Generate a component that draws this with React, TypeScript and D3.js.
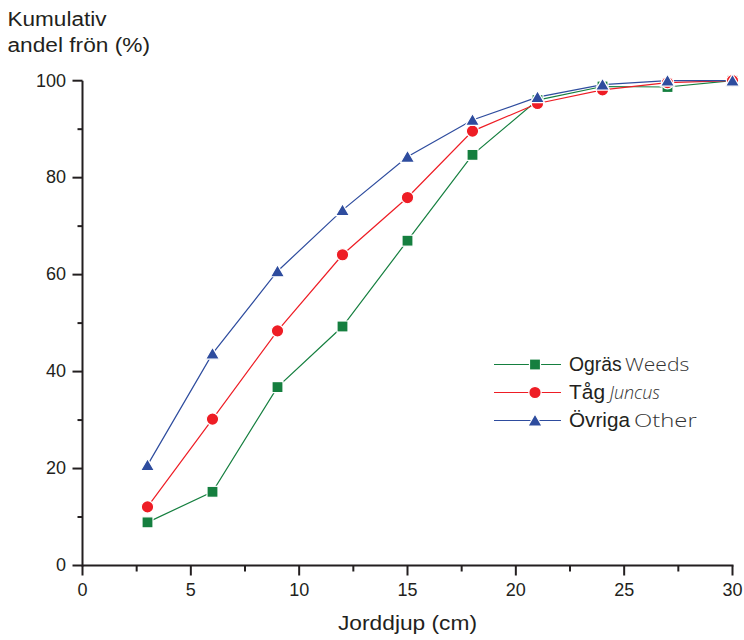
import React from "react";
import * as d3 from "d3";

const depths = [3, 6, 9, 12, 15, 18, 21, 24, 27, 30];
const weeds = [8.9, 15.2, 36.8, 49.3, 67.0, 84.7, 96.0, 98.8, 98.7, 100];
const juncus = [12.1, 30.2, 48.4, 64.1, 75.9, 89.6, 95.3, 98.1, 99.6, 100];
const other = [20.7, 43.7, 60.7, 73.3, 84.3, 91.9, 96.6, 99.2, 100, 100];
const xTicks = [0, 5, 10, 15, 20, 25, 30];
const xMinor = [2.5, 7.5, 12.5, 17.5, 22.5, 27.5];
const yTicks = [0, 20, 40, 60, 80, 100];
const yMinor = [10, 30, 50, 70, 90];

const seriesNames = ["Ogräs", "Tåg", "Övriga"];
const seriesSub = ["Weeds", "Juncus", "Other"];
const colors = ["#157f3f", "#ee1d25", "#2e4c9e"];

const W = 744;
const H = 640;

export default function App() {
  const x = d3.scaleLinear().domain([0, 30]).range([82.5, 732.5]);
  const y = d3.scaleLinear().domain([0, 100]).range([565.5, 80.7]);
  const line = d3
    .line<number>()
    .x((_, i) => x(depths[i]))
    .y((v) => y(v));
  const all = [weeds, juncus, other];
  const font = "'Liberation Sans', Arial, Helvetica, sans-serif";
  const subFont = "'Open Sans', Lato, sans-serif";

  const marker = (k: number, cx: number, cy: number, key: string) => {
    if (k === 0)
      return (
        <rect key={key} x={cx - 5.5} y={cy - 5.5} width={11} height={11} fill={colors[0]} stroke="#fff" strokeWidth={1.2} />
      );
    if (k === 1)
      return <circle key={key} cx={cx} cy={cy} r={6.2} fill={colors[1]} stroke="#fff" strokeWidth={1.2} />;
    const h = 11;
    const w = 14;
    const p = `M${cx},${cy - h / 2 - 1}L${cx + w / 2},${cy + h / 2}L${cx - w / 2},${cy + h / 2}Z`;
    return <path key={key} d={p} fill={colors[2]} stroke="#fff" strokeWidth={1.2} />;
  };

  const legendY = [364.5, 392.5, 420.5];
  const mainLen = [52.7, 36, 61];
  const subX = [625, 609.5, 634];
  const subLen = [64.3, 50.5, 62.7];

  return (
    <svg width={W} height={H} style={{ position: "absolute", left: 0, top: 0, background: "#fff" }}>
      <rect width={W} height={H} fill="#fff" />
      <text x={7.5} y={26} fontFamily={font} fontSize={19.5} fill="#231f20" textLength={99} lengthAdjust="spacingAndGlyphs">
        Kumulativ
      </text>
      <text x={7.5} y={52} fontFamily={font} fontSize={19.5} fill="#231f20" textLength={142.5} lengthAdjust="spacingAndGlyphs">
        andel frön (%)
      </text>

      {/* axes */}
      <g stroke="#231f20" strokeWidth={2} fill="none">
        <line x1={x(0)} x2={x(30) + 1} y1={y(0)} y2={y(0)} />
        <line x1={x(0)} x2={x(0)} y1={y(0) + 1} y2={y(100)} />
        {xTicks.map((t) => (
          <line key={"xt" + t} x1={x(t)} x2={x(t)} y1={y(0)} y2={y(0) + 10} />
        ))}
        {xMinor.map((t) => (
          <line key={"xm" + t} x1={x(t)} x2={x(t)} y1={y(0)} y2={y(0) + 6} />
        ))}
        {yTicks.map((t) => (
          <line key={"yt" + t} x1={x(0) - 10} x2={x(0)} y1={y(t)} y2={y(t)} />
        ))}
        {yMinor.map((t) => (
          <line key={"ym" + t} x1={x(0) - 5} x2={x(0)} y1={y(t)} y2={y(t)} />
        ))}
      </g>
      {xTicks.map((t) => (
        <text key={"xl" + t} x={x(t)} y={596} textAnchor="middle" fontFamily={font} fontSize={18} fill="#231f20">
          {t}
        </text>
      ))}
      {yTicks.map((t) => (
        <text key={"yl" + t} x={x(0) - 16.5} y={y(t) + 5.8} textAnchor="end" fontFamily={font} fontSize={18} fill="#231f20">
          {t}
        </text>
      ))}
      <text x={338} y={630} fontFamily={font} fontSize={19.5} fill="#231f20" textLength={139} lengthAdjust="spacingAndGlyphs">
        Jorddjup (cm)
      </text>

      {/* series */}
      {all.map((s, k) => (
        <path key={"l" + k} d={line(s) || ""} fill="none" stroke={colors[k]} strokeWidth={1.2} />
      ))}
      {all.map((s, k) => (
        <g key={"m" + k}>{s.map((v, i) => marker(k, x(depths[i]), y(v), k + "-" + i))}</g>
      ))}

      {/* legend */}
      {seriesNames.map((n, k) => (
        <g key={"lg" + k}>
          <line x1={494} x2={561} y1={legendY[k]} y2={legendY[k]} stroke={colors[k]} strokeWidth={1.2} />
          {marker(k, 535, legendY[k], "lm" + k)}
          <text
            x={569}
            y={legendY[k] + 6}
            fontFamily={font}
            fontSize={20.5}
            fill="#231f20"
            textLength={mainLen[k]}
            lengthAdjust="spacingAndGlyphs"
          >
            {n}
          </text>
          <text
            x={subX[k]}
            y={legendY[k] + 6}
            fontFamily={subFont}
            fontSize={18}
            fontWeight={300}
            fontStyle={k === 1 ? "italic" : "normal"}
            fill="#333"
            textLength={subLen[k]}
            lengthAdjust="spacingAndGlyphs"
          >
            {seriesSub[k]}
          </text>
        </g>
      ))}
    </svg>
  );
}
